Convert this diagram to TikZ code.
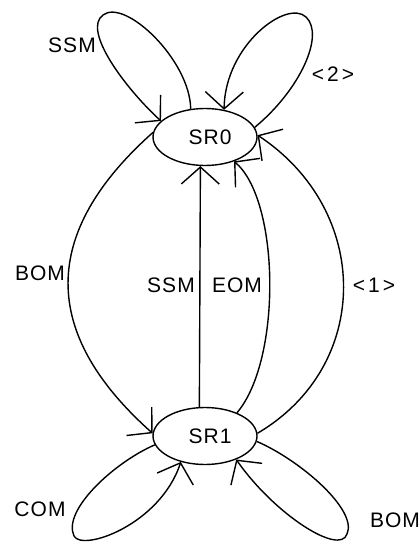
\documentclass[tikz,border=0pt]{standalone}
\usepackage{fontspec}
\setmainfont[LetterSpace=5]{Liberation Sans}
\usetikzlibrary{arrows.meta,shapes.geometric}
\begin{document}
\begin{tikzpicture}[x=1pt,y=-1pt,
  line width=1.4pt,
  >={Straight Barb[length=17pt,width=38pt]},
  state/.style={ellipse,draw,minimum width=104pt,minimum height=57pt,inner sep=0pt,font=\fontsize{21}{24}\selectfont},
  lbl/.style={inner sep=0pt,font=\fontsize{21}{24}\selectfont}]
\useasboundingbox (0,0) rectangle (419,543);
\node[state] (s0) at (205,137) {\hspace*{10pt}SR0};
\node[state] (s1) at (205,436) {\hspace*{10pt}SR1};
% edges between states
\draw[->] (s1.101) -- (s0.-99);
\draw[->] (s1.36) .. controls (282,360) and (280,200) .. (s0.-40);
\draw[->] (s1.3) .. controls (372,366) and (372,211) .. (s0.2);
\draw[->] (s0.175) .. controls (40,233) and (40,333) .. (s1.177);
% self loops
\draw[->] (s0.117) .. controls (190,60) and (125,-2) .. (103,15) .. controls (82,30) and (125,88) .. (s0.160);
\draw[->] (s0.11) .. controls (300,90) and (325,35) .. (306,17) .. controls (287,-1) and (225,45) .. (s0.55);
\draw[->] (s1.190) .. controls (115,462) and (62,510) .. (74,536) .. controls (82,552) and (160,525) .. (s1.227);
\draw[->] (s1.-6) .. controls (300,460) and (358,510) .. (347,534) .. controls (340,556) and (275,515) .. (s1.-37.5);
% labels
\node[lbl] (lssmtop) at (72,45) {SSM};
\node[lbl] (ltwo) at (333,74) {<\hspace{3pt}2\hspace{3pt}>};
\node[lbl] (lbomleft) at (40,273) {BOM};
\node[lbl] (lssmmid) at (171,285) {SSM};
\node[lbl] (leom) at (237,285) {EOM};
\node[lbl] (lone) at (374,285) {<\hspace{3pt}1\hspace{3pt}>};
\node[lbl] (lcom) at (40,509) {COM};
\node[lbl] (lbombot) at (395,520) {BOM};
\end{tikzpicture}
\end{document}
